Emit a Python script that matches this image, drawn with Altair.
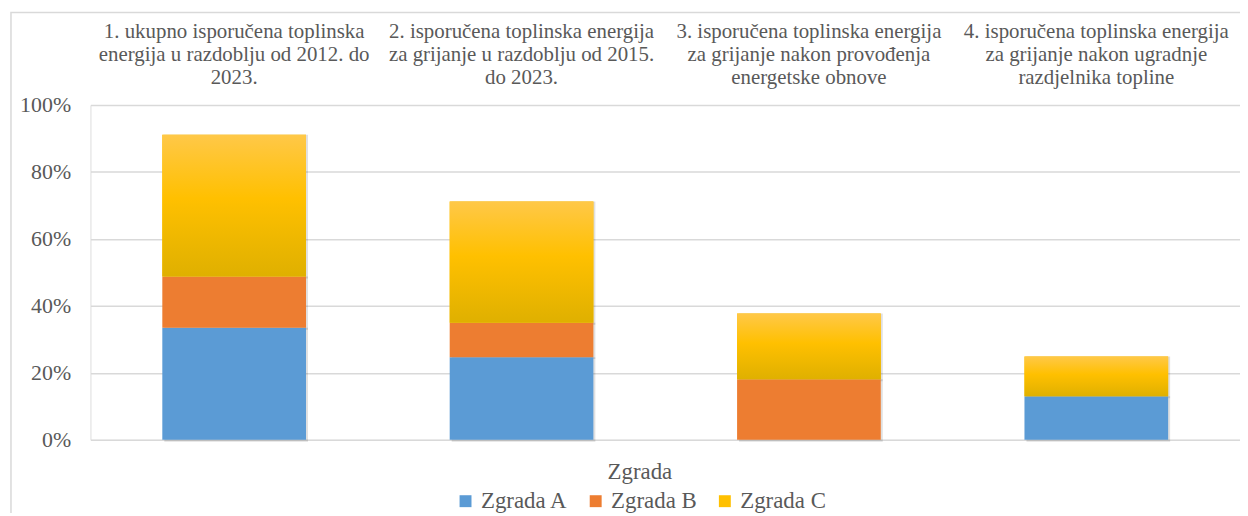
import altair as alt
import pandas as pd

categories = [
    "1. ukupno isporučena toplinska|energija u razdoblju od 2012. do|2023.",
    "2. isporučena toplinska energija|za grijanje u razdoblju od 2015.|do 2023.",
    "3. isporučena toplinska energija|za grijanje nakon provođenja|energetske obnove",
    "4. isporučena toplinska energija|za grijanje nakon ugradnje|razdjelnika topline",
]
buildings = ["Zgrada A", "Zgrada B", "Zgrada C"]
zgrada_a = [0.335, 0.247, 0.0, 0.130]
zgrada_b = [0.153, 0.103, 0.181, 0.0]
zgrada_c = [0.423, 0.362, 0.196, 0.119]
colors = ["#5b9bd5", "#ed7d31", "#ffc000"]

rows = []
for i, cat in enumerate(categories):
    base = 0.0
    for b, series in zip(buildings, [zgrada_a, zgrada_b, zgrada_c]):
        v = series[i]
        if v > 0:
            rows.append({"kategorija": cat, "Zgrada": b, "start": base, "end": base + v, "value": v})
        base += v
df = pd.DataFrame(rows)

FONT = "'Liberation Serif', 'Times New Roman', 'DejaVu Serif', serif"
GREY = "#595959"

x_enc = alt.X(
    "kategorija:N",
    sort=categories,
    scale=alt.Scale(paddingInner=0.5, paddingOuter=0.25),
    axis=alt.Axis(
        orient="top",
        title=None,
        labelAngle=0,
        labelExpr="split(datum.label, '|')",
        labelFont=FONT,
        labelFontSize=21,
        labelColor=GREY,
        labelLineHeight=23,
        labelLimit=0,
        labelPadding=64,
        labelBaseline="bottom",
        ticks=False,
        domain=False,
        grid=False,
    ),
)
y_enc = alt.Y(
    "start:Q",
    scale=alt.Scale(domain=[0, 1]),
    axis=alt.Axis(
        title=None,
        values=[0, 0.2, 0.4, 0.6, 0.8, 1.0],
        format=".0%",
        labelFont=FONT,
        labelFontSize=22,
        labelColor=GREY,
        labelPadding=20,
        ticks=False,
        domain=False,
        grid=True,
        gridColor="#d9d9d9",
        gridWidth=1.5,
    ),
)

frame = alt.Chart(alt.Data(values=[{"a": 1}])).mark_rect(
    fill="transparent", stroke="#d9d9d9", strokeWidth=1.5, clip=False
).encode(
    x=alt.value(-80), x2=alt.value(1180), y=alt.value(-93), y2=alt.value(430)
)

shadow = alt.Chart(df).mark_bar(
    color="#000000", opacity=0.12, xOffset=2, yOffset=2
).encode(
    x=x_enc,
    y=y_enc,
    y2="end:Q",
)

bars = alt.Chart(df).mark_bar().encode(
    x=x_enc,
    y=y_enc,
    y2="end:Q",
    color=alt.Color(
        "Zgrada:N",
        scale=alt.Scale(domain=buildings, range=colors),
        legend=alt.Legend(
            title="Zgrada",
            orient="none",
            legendX=366,
            legendY=358,
            direction="horizontal",
            titleAnchor="middle",
            titleOrient="top",
            titleFont=FONT,
            titleFontSize=23,
            titleFontWeight="normal",
            titleColor=GREY,
            titlePadding=6,
            labelFont=FONT,
            labelFontSize=23,
            labelColor=GREY,
            labelOffset=4,
            symbolType="square",
            symbolSize=144,
            symbolStrokeWidth=0,
            symbolOpacity=1,
            columnPadding=16,
            padding=0,
        ),
    ),
)

gradient = alt.Gradient(
    gradient="linear",
    stops=[
        alt.GradientStop(color="#ffc848", offset=0),
        alt.GradientStop(color="#ffc000", offset=0.45),
        alt.GradientStop(color="#dfb000", offset=1),
    ],
    x1=0, x2=0, y1=0, y2=1,
)

c_bars = alt.Chart(df).transform_filter(alt.datum.Zgrada == "Zgrada C").mark_bar(fill=gradient).encode(
    x=x_enc,
    y=y_enc,
    y2="end:Q",
)

chart = alt.layer(frame, shadow, bars, c_bars).properties(
    width=1157,
    height=337,
    autosize=alt.AutoSizeParams(type="none"),
    padding={"left": 83, "top": 96, "right": 0, "bottom": 72},
    background="white",
).configure_view(stroke=None).configure(font=FONT)

chart.save("out.html", embed_options={"renderer": "svg", "actions": False})
